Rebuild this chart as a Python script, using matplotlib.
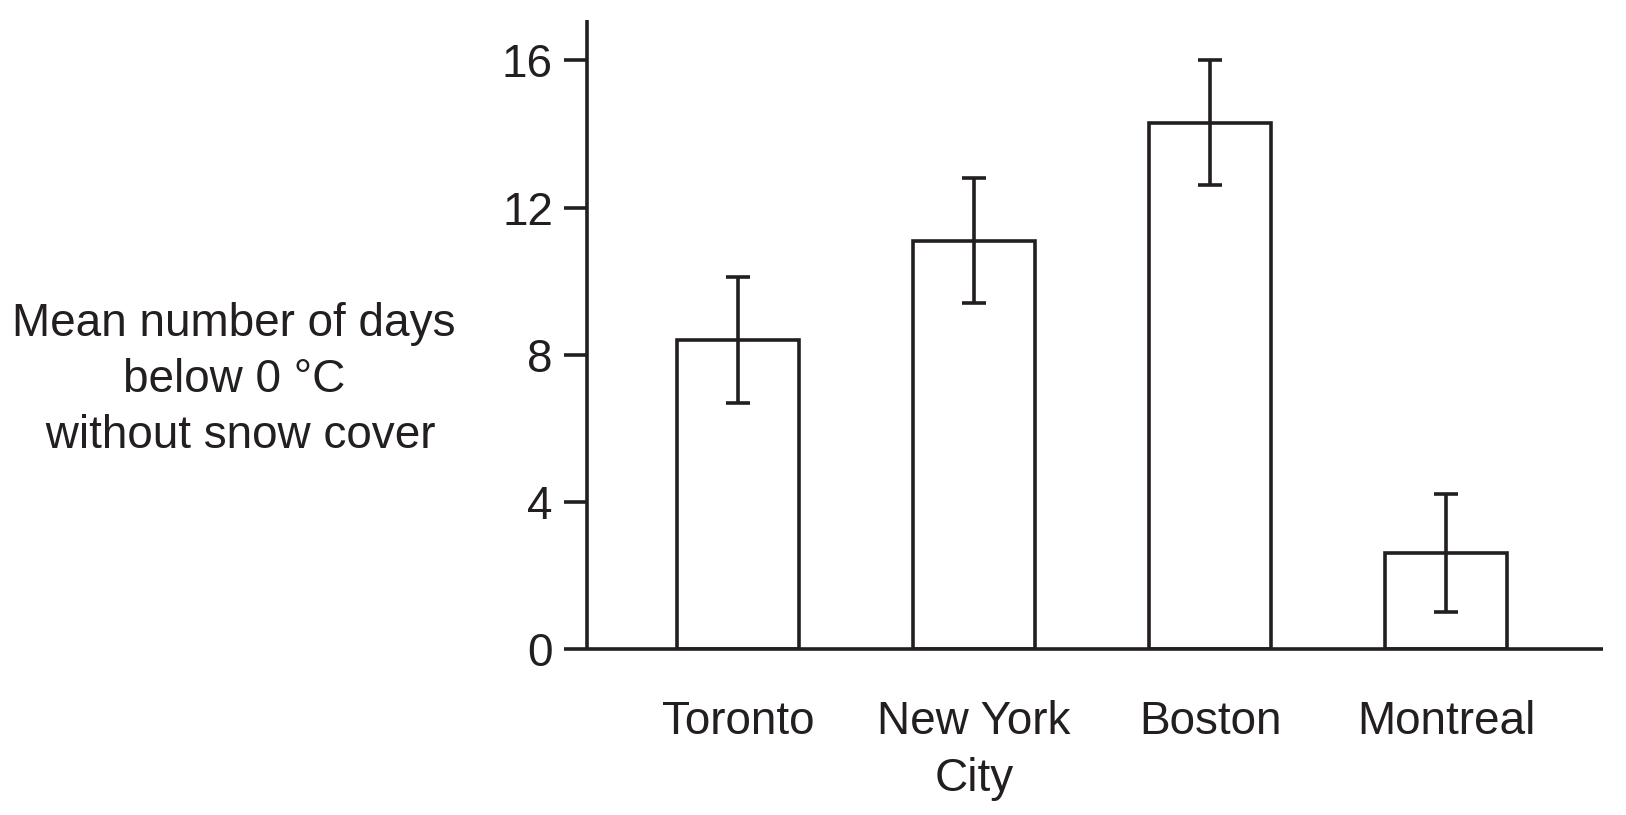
import matplotlib
matplotlib.use("Agg")
from matplotlib import pyplot as plt
import numpy as np

# Values
cities = ["Toronto", "New York\nCity", "Boston", "Montreal"]
mean_days = [8.4, 11.1, 14.3, 2.6]
errors = [1.7, 1.7, 1.7, 1.6]
y_ticks = [0, 4, 8, 12, 16]

INK = "#231f20"
LW = 2.6
FS = 33

plt.rcParams['font.family'] = ['Liberation Sans', 'DejaVu Sans']

fig = plt.figure(figsize=(16.26, 8.15), dpi=100)
ax = fig.add_axes([0.361, 0.2037, 0.625, 0.7718])

x = np.arange(len(cities))
ax.bar(x, mean_days, width=0.515, facecolor="white", edgecolor=INK,
       linewidth=LW, zorder=2)
ax.errorbar(x, mean_days, yerr=errors, fmt="none", ecolor=INK,
            elinewidth=LW, capsize=8.5, capthick=LW, zorder=3)

ax.set_xlim(-0.64, 3.665)
ax.set_ylim(0, 17.1)
ax.set_yticks(y_ticks)
ax.set_xticks(x)
ax.set_xticklabels(cities, fontsize=FS, color=INK, linespacing=1.36)
ax.tick_params(axis='x', length=0, pad=37)
ax.tick_params(axis='y', length=16.5, width=LW, color=INK, pad=8,
               labelsize=FS, labelcolor=INK, direction='out')

for side in ['top', 'right']:
    ax.spines[side].set_visible(False)
for side in ['left', 'bottom']:
    ax.spines[side].set_linewidth(LW)
    ax.spines[side].set_color(INK)
    ax.spines[side].set_capstyle('butt')

fig.text(0.144, 0.534, "Mean number of days\nbelow 0 °C\n without snow cover",
         ha='center', va='center', fontsize=FS, color=INK, linespacing=1.36)

fig.savefig("out.png", dpi=100)
